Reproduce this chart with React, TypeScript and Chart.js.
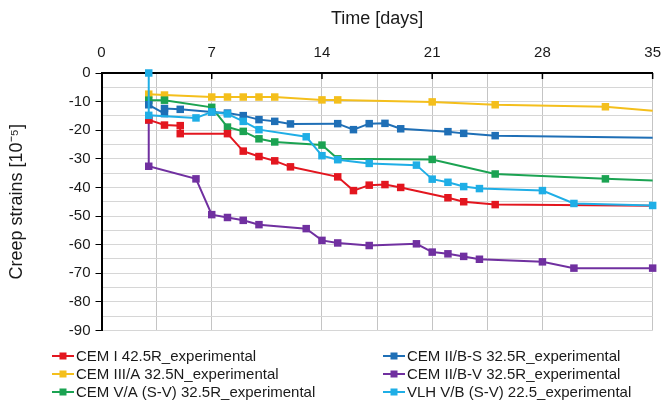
import React, { useEffect, useRef } from 'react';
import { Chart, registerables } from 'chart.js';

Chart.register(...registerables);

// ---- data ----
const seriesNames = [
  'CEM I 42.5R_experimental',
  'CEM II/B-S 32.5R_experimental',
  'CEM III/A 32.5N_experimental',
  'CEM II/B-V 32.5R_experimental',
  'CEM V/A (S-V) 32.5R_experimental',
  'VLH V/B (S-V) 22.5_experimental',
];

const xTickLabels = [0, 7, 14, 21, 28, 35];
const yTickLabels = [0, -10, -20, -30, -40, -50, -60, -70, -80, -90];

const cem1Days = [3, 4, 5, 5, 8, 9, 10, 11, 12, 15, 16, 17, 18, 19, 22, 23, 25, 35];
const cem1Values = [-16.4, -18.2, -18.4, -21.2, -21.2, -27.3, -29.2, -30.7, -32.8, -36.3, -41.1, -39.2, -39.0, -40.0, -43.6, -45.0, -46.0, -46.4];

const cem2bsDays = [3, 4, 4, 5, 7, 8, 9, 10, 11, 12, 15, 16, 17, 18, 19, 22, 23, 25, 35];
const cem2bsValues = [-11.1, -14.2, -12.4, -12.7, -13.6, -14.0, -14.9, -16.3, -16.9, -17.8, -17.7, -19.8, -17.7, -17.6, -19.5, -20.5, -21.1, -21.9, -22.6];

const cem3aDays = [3, 4, 7, 8, 9, 10, 11, 14, 15, 21, 25, 32, 35];
const cem3aValues = [-7.4, -7.7, -8.4, -8.4, -8.4, -8.4, -8.4, -9.4, -9.4, -10.1, -11.1, -11.8, -13.2];

const cem2bvDays = [3, 3, 6, 7, 8, 9, 10, 13, 14, 15, 17, 20, 21, 22, 23, 24, 28, 30, 35];
const cem2bvValues = [-16.4, -32.6, -37.0, -49.5, -50.5, -51.5, -53.0, -54.4, -58.5, -59.4, -60.3, -59.7, -62.6, -63.2, -64.1, -65.1, -66.0, -68.2, -68.2];

const cem5aDays = [3, 4, 7, 8, 9, 10, 11, 14, 15, 21, 25, 32, 35];
const cem5aValues = [-9.5, -9.5, -12.0, -18.9, -20.4, -23.0, -24.1, -25.2, -30.0, -30.2, -35.3, -37.0, -37.6];

const vlhDays = [3, 3, 6, 7, 8, 9, 10, 13, 14, 15, 17, 20, 21, 22, 23, 24, 28, 30, 35];
const vlhValues = [0, -14.8, -15.7, -13.6, -14.3, -16.9, -19.8, -22.3, -28.9, -30.3, -31.6, -32.2, -37.1, -38.2, -39.7, -40.4, -41.1, -45.6, -46.3];

const toPoints = (days: number[], values: number[]) => days.map((d, i) => ({ x: d, y: values[i] }));

const colors = ['#e3161f', '#1f6fb6', '#f4bf1c', '#7030a0', '#1ba352', '#1faee6'];
// whether the last point of each series is drawn without a marker
const lastHidden = [true, true, true, false, true, false];
const drawOrder = [2, 3, 5, 6, 4, 1];
const pointSets = [
  toPoints(cem1Days, cem1Values),
  toPoints(cem2bsDays, cem2bsValues),
  toPoints(cem3aDays, cem3aValues),
  toPoints(cem2bvDays, cem2bvValues),
  toPoints(cem5aDays, cem5aValues),
  toPoints(vlhDays, vlhValues),
];

const FONT = "'Liberation Sans', Arial, sans-serif";

const legendPlugin = {
  id: 'colLegend',
  afterDraw(chart: any) {
    const ctx = chart.ctx;
    const colX = [52, 383];
    const rowY = [356, 374, 392];
    ctx.save();
    ctx.font = `15px ${FONT}`;
    ctx.textBaseline = 'middle';
    ctx.textAlign = 'left';
    chart.data.datasets.forEach((ds: any, i: number) => {
      const x = colX[i % 2];
      const y = rowY[Math.floor(i / 2)];
      ctx.strokeStyle = ds.borderColor;
      ctx.lineWidth = 2;
      ctx.beginPath();
      ctx.moveTo(x, y);
      ctx.lineTo(x + 22, y);
      ctx.stroke();
      ctx.fillStyle = ds.borderColor;
      ctx.fillRect(x + 7.5, y - 3.5, 7, 7);
      ctx.fillStyle = '#1a1a1a';
      ctx.fillText(ds.label, x + 24, y + 1);
    });
    ctx.restore();
  },
};

const innerTicksPlugin = {
  id: 'innerTicks',
  afterDraw(chart: any) {
    const ctx = chart.ctx;
    const xs = chart.scales.x;
    const top = chart.chartArea.top;
    ctx.save();
    ctx.strokeStyle = '#000';
    ctx.lineWidth = 1.5;
    xTickLabels.forEach((v) => {
      if (v === 0) return;
      const px = xs.getPixelForValue(v);
      ctx.beginPath();
      ctx.moveTo(px, top);
      ctx.lineTo(px, top + 6);
      ctx.stroke();
    });
    ctx.restore();
  },
};

export default function App() {
  const canvasRef = useRef<HTMLCanvasElement>(null);

  useEffect(() => {
    if (!canvasRef.current) return;
    const chart = new Chart(canvasRef.current, {
      type: 'line',
      data: {
        datasets: seriesNames.map((name, i) => ({
          label: name,
          data: pointSets[i],
          borderColor: colors[i],
          backgroundColor: colors[i],
          borderWidth: 2,
          pointStyle: 'rect',
          pointRadius: (c: any) => (lastHidden[i] && c.dataIndex === pointSets[i].length - 1 ? 0 : 5.3),
          pointBorderWidth: 0,
          tension: 0,
          order: drawOrder[i],
          clip: false as any,
        })),
      },
      options: {
        animation: false,
        responsive: false,
        layout: { padding: { left: 0, top: 0, right: 14.5, bottom: 86.5 } },
        plugins: {
          legend: { display: false },
          tooltip: { enabled: false },
        },
        scales: {
          x: {
            type: 'linear',
            position: 'top',
            min: 0,
            max: 35,
            afterFit: (s: any) => {
              s.height = 73;
            },
            afterBuildTicks: (s: any) => {
              const t = [];
              for (let v = 0; v <= 35; v += 3.5) t.push({ value: v });
              s.ticks = t;
            },
            ticks: {
              autoSkip: false,
              maxRotation: 0,
              padding: 11,
              color: '#1a1a1a',
              font: { family: FONT, size: 15 },
              callback: (v: any) => (xTickLabels.includes(Number(v)) ? String(v) : ''),
            },
            grid: {
              drawTicks: false,
              lineWidth: 1,
              color: (c: any) => {
                const v = c.tick ? c.tick.value : 0;
                if (v === 0 || v === 10.5 || v === 31.5) return 'rgba(0,0,0,0)';
                return '#c4c4c4';
              },
            },
            border: { display: true, color: '#000', width: 2 },
            title: {
              display: true,
              text: 'Time [days]',
              color: '#1a1a1a',
              font: { family: FONT, size: 18 },
              padding: { top: 8, bottom: 0 },
            },
          },
          y: {
            type: 'linear',
            min: -90,
            max: 0,
            afterFit: (s: any) => {
              s.width = 101.5;
            },
            ticks: {
              stepSize: 5,
              autoSkip: false,
              padding: 5,
              color: '#1a1a1a',
              font: { family: FONT, size: 15 },
              callback: (v: any) => (yTickLabels.includes(Number(v)) ? String(v) : ''),
            },
            grid: {
              drawTicks: true,
              tickLength: 6,
              lineWidth: 1,
              color: (c: any) => (c.tick && c.tick.value === 0 ? 'rgba(0,0,0,0)' : '#d6d6d6'),
              tickColor: (c: any) => (c.tick && c.tick.value % 10 === 0 ? '#000' : 'rgba(0,0,0,0)'),
            },
            border: { display: true, color: '#000', width: 2 },
            title: {
              display: true,
              text: 'Creep strains [10⁻⁵]',
              color: '#1a1a1a',
              font: { family: FONT, size: 18 },
              padding: { top: 6, bottom: 0 },
            },
          },
        },
      },
      plugins: [legendPlugin, innerTicksPlugin],
    } as any);
    return () => chart.destroy();
  }, []);

  return (
    <div style={{ position: 'fixed', left: 0, top: 0, width: 672, height: 417, background: '#fff' }}>
      <canvas ref={canvasRef} width={672} height={417} style={{ display: 'block' }} />
    </div>
  );
}
